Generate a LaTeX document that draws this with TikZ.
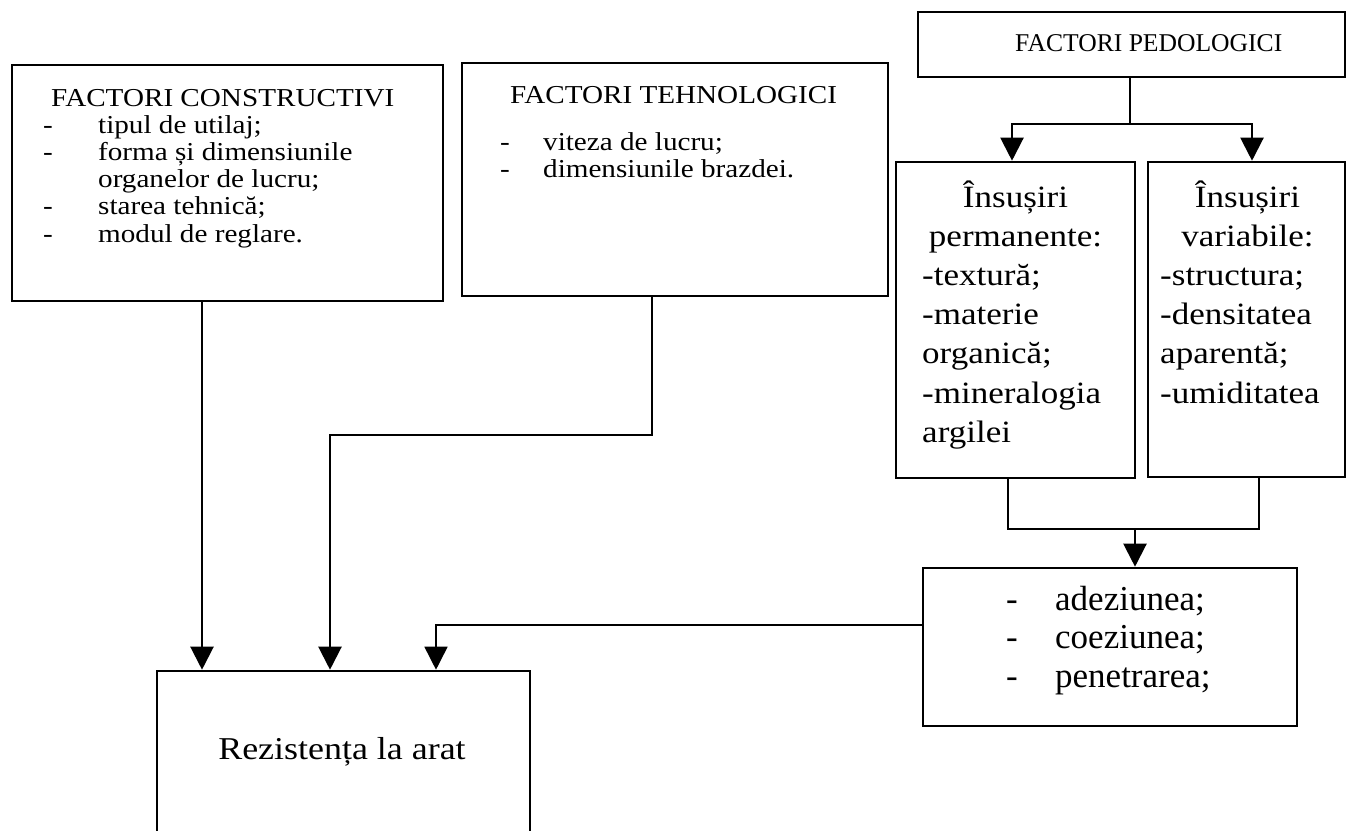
\documentclass[tikz,border=0pt]{standalone}
\usepackage{fontspec}
\setmainfont{Liberation Serif}
\newfontfamily\widefont[FakeStretch=1.13]{Liberation Serif}
\usetikzlibrary{arrows.meta,positioning}

\newcommand{\smalltxt}{\widefont\fontsize{25.8}{27.3}\selectfont}
\newcommand{\midtxt}{\widefont\fontsize{31}{39.2}\selectfont}
\newcommand{\bigtxt}{\fontsize{35}{38.5}\selectfont}

\tikzset{
  box/.style={rectangle, draw, line width=2.6pt, inner sep=0pt},
  txt/.style={anchor=base west, inner sep=0pt},
  link/.style={line width=2.2pt},
  arr/.style={line width=2.2pt, -{Triangle[length=23pt,width=23pt]}},
}

\begin{document}
\begin{tikzpicture}[x=1pt, y=-1pt]
\useasboundingbox (0,0) rectangle (1346,830);
\clip (0,0) rectangle (1346,830);

% factori constructivi
\node[box, minimum width=431pt, minimum height=236pt] (cons) at (227.5,183) {};
\node[txt] (consT) at (51,106) {\smalltxt FACTORI CONSTRUCTIVI};
\node[txt] (consL) at (43,133) {\smalltxt\begin{tabular}[t]{@{}p{55pt}@{}l@{}}
- & tipul de utilaj;\\
- & forma și dimensiunile\\
  & organelor de lucru;\\
- & starea tehnică;\\
- & modul de reglare.
\end{tabular}};

% factori tehnologici
\node[box, minimum width=426pt, minimum height=233pt] (tech) at (675,179.5) {};
\node[txt] (techT) at (510,103) {\smalltxt FACTORI TEHNOLOGICI};
\node[txt] (techL) at (500,150) {\smalltxt\begin{tabular}[t]{@{}p{43pt}@{}l@{}}
- & viteza de lucru;\\
- & dimensiunile brazdei.
\end{tabular}};

% factori pedologici
\node[box, minimum width=427pt, minimum height=65pt] (pedo) at (1131.5,44.5) {};
\node[txt] (pedoT) at (1015,51) {\fontsize{25.6}{28}\selectfont FACTORI PEDOLOGICI};

% insusiri permanente
\node[box, minimum width=239pt, minimum height=316pt] (perm) at (1015.5,320) {};
\node[anchor=base, inner sep=0pt] (permT) at (1015.5,207) {\midtxt\begin{tabular}[t]{@{}c@{}}
Însușiri\\ permanente:
\end{tabular}};
\node[txt] (permL) at (922,285.4) {\midtxt\begin{tabular}[t]{@{}l@{}}
-textură;\\ -materie\\ organică;\\ -mineralogia\\ argilei
\end{tabular}};

% insusiri variabile
\node[box, minimum width=197pt, minimum height=315pt] (var) at (1246.5,319.5) {};
\node[anchor=base, inner sep=0pt] (varT) at (1247.5,207) {\midtxt\begin{tabular}[t]{@{}c@{}}
Însușiri\\ variabile:
\end{tabular}};
\node[txt] (varL) at (1160,285.4) {\midtxt\begin{tabular}[t]{@{}l@{}}
-structura;\\ -densitatea\\ aparentă;\\ -umiditatea
\end{tabular}};

% adeziune etc.
\node[box, minimum width=374pt, minimum height=158pt] (adez) at (1110,647) {};
\node[txt] (adezL) at (1006,610) {\bigtxt\begin{tabular}[t]{@{}p{49pt}@{}l@{}}
- & adeziunea;\\
- & coeziunea;\\
- & penetrarea;
\end{tabular}};

% rezistenta la arat
\node[box, minimum width=373pt, minimum height=178pt] (rez) at (343.5,760) {};
\node[anchor=base, inner sep=0pt] (rezT) at (342,759) {\widefont\fontsize{31.8}{34}\selectfont Rezistența la arat};

% connectors
\coordinate (c1) at (202,0);
\coordinate (c2) at (652,435);
\coordinate (c3) at (330,435);
\coordinate (c4) at (436,625);
\coordinate (c5) at (1130,124);
\coordinate (c6) at (1012,0);
\coordinate (c7) at (1252,0);
\coordinate (c8) at (1008,0);
\coordinate (c9) at (1259,0);
\coordinate (jn) at (1135,529);

\draw[arr] (cons.south -| c1) -- (rez.north -| c1);
\draw[arr] (tech.south -| c2) -- (c2) -- (c3) -- (rez.north -| c3);
\draw[arr, line width=1.6pt] (adez.west |- c4) -| (rez.north -| c4);

\draw[link] (pedo.south -| c5) -- (c5);
\draw[arr] (c5) -| (perm.north -| c6);
\draw[arr] (c5) -| (var.north -| c7);

\draw[link] (perm.south -| c8) |- (jn);
\draw[link] (var.south -| c9) |- (jn);
\draw[arr] (jn) -- (adez.north -| jn);
\end{tikzpicture}
\end{document}
